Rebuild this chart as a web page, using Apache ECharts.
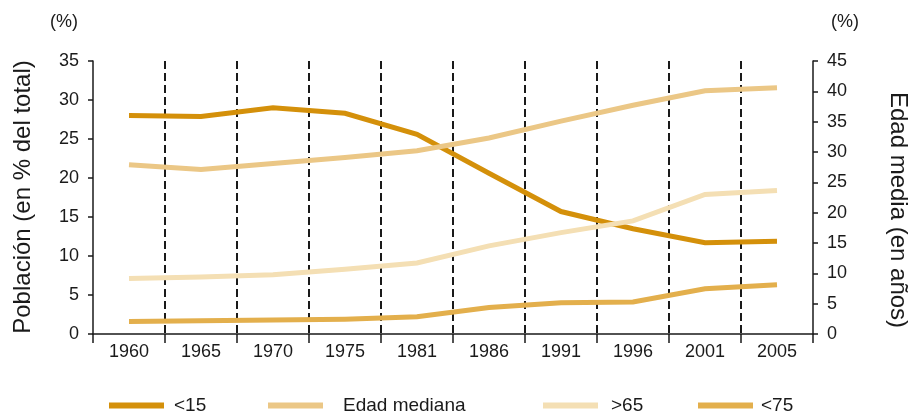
<!DOCTYPE html>
<html>
<head>
<meta charset="utf-8">
<script src="https://cdn.jsdelivr.net/npm/echarts@6/dist/echarts.min.js"></script>
<style>
html,body{margin:0;padding:0;background:#fff;}
#chart{width:911px;height:415px;}
</style>
</head>
<body>
<div id="chart"></div>
<script>
var categories = ['1960','1965','1970','1975','1981','1986','1991','1996','2001','2005'];
var under15 = [28.0, 27.9, 29.0, 28.3, 25.6, 20.6, 15.7, 13.5, 11.7, 11.9];
var edadMediana = [27.9, 27.1, 28.1, 29.1, 30.2, 32.3, 35.1, 37.7, 40.1, 40.6];
var over65 = [7.1, 7.3, 7.6, 8.3, 9.1, 11.3, 13.0, 14.5, 17.9, 18.4];
var under75 = [1.6, 1.7, 1.8, 1.9, 2.2, 3.4, 4.0, 4.1, 5.8, 6.3];
var seriesNames = ['<15', 'Edad mediana', '>65', '<75'];
var leftTitle = 'Población (en % del total)';
var rightTitle = 'Edad media (en años)';
var unitLabel = '(%)';

var FONT = '"Liberation Sans", Arial, Helvetica, sans-serif';
var TXT = '#1a1a1a';
var colors = ['#D4900A', '#EBC786', '#F4DFB4', '#E3AF4C'];

var chart = echarts.init(document.getElementById('chart'), null, {renderer: 'canvas'});

function legendItem(name, left, pad) {
  return {
    data: [name], left: left, top: 396, padding: 0,
    icon: 'rect', itemWidth: 55, itemHeight: 6,
    selectedMode: false,
    textStyle: {fontFamily: FONT, fontSize: 19, color: TXT, padding: [0, 0, 0, pad]}
  };
}

function mkSeries(name, data, axisIdx, color) {
  return {
    name: name, type: 'line', data: data, yAxisIndex: axisIdx,
    symbol: 'none', smooth: false,
    lineStyle: {color: color, width: 5, cap: 'butt', join: 'miter'},
    itemStyle: {color: color},
    emphasis: {disabled: true}
  };
}

chart.setOption({
  animation: false,
  textStyle: {fontFamily: FONT},
  grid: {left: 93, right: 98, top: 61, bottom: 81, containLabel: false},
  xAxis: {
    type: 'category', data: categories, boundaryGap: true,
    axisLine: {lineStyle: {color: TXT, width: 1.5}},
    axisTick: {show: true, length: 9, interval: 0, lineStyle: {color: TXT, width: 1.5}},
    axisLabel: {fontFamily: FONT, fontSize: 18, color: TXT, margin: 9, interval: 0},
    splitLine: {show: true, interval: 0, showMinLine: false, showMaxLine: false,
      lineStyle: {color: TXT, width: 2, type: [8, 4]}}
  },
  yAxis: [
    {
      type: 'value', min: 0, max: 35, interval: 5, position: 'left',
      axisLine: {show: true, lineStyle: {color: TXT, width: 1.5}},
      axisTick: {show: true, length: 5, lineStyle: {color: TXT, width: 1.5}},
      axisLabel: {fontFamily: FONT, fontSize: 18, color: TXT, margin: 14},
      splitLine: {show: false}
    },
    {
      type: 'value', min: 0, max: 45, interval: 5, position: 'right',
      axisLine: {show: true, lineStyle: {color: TXT, width: 1.5}},
      axisTick: {show: true, length: 5, lineStyle: {color: TXT, width: 1.5}},
      axisLabel: {fontFamily: FONT, fontSize: 18, color: TXT, margin: 14},
      splitLine: {show: false}
    }
  ],
  legend: [
    legendItem(seriesNames[0], 109, 5),
    legendItem(seriesNames[1], 268, 15),
    legendItem(seriesNames[2], 543, 8),
    legendItem(seriesNames[3], 698, 3)
  ],
  graphic: [
    {type: 'text', x: 64, y: 22, silent: true,
      style: {text: unitLabel, font: '18px ' + FONT, fill: TXT, align: 'center', verticalAlign: 'middle'}},
    {type: 'text', x: 845, y: 22, silent: true,
      style: {text: unitLabel, font: '18px ' + FONT, fill: TXT, align: 'center', verticalAlign: 'middle'}},
    {type: 'text', x: 23, y: 197, rotation: Math.PI / 2, silent: true,
      style: {text: leftTitle, font: '24px ' + FONT, fill: TXT, align: 'center', verticalAlign: 'middle'}},
    {type: 'text', x: 898, y: 210, rotation: -Math.PI / 2, silent: true,
      style: {text: rightTitle, font: '24px ' + FONT, fill: TXT, align: 'center', verticalAlign: 'middle'}}
  ],
  series: [
    mkSeries(seriesNames[0], under15, 0, colors[0]),
    mkSeries(seriesNames[1], edadMediana, 1, colors[1]),
    mkSeries(seriesNames[2], over65, 0, colors[2]),
    mkSeries(seriesNames[3], under75, 0, colors[3])
  ]
});
</script>
</body>
</html>
